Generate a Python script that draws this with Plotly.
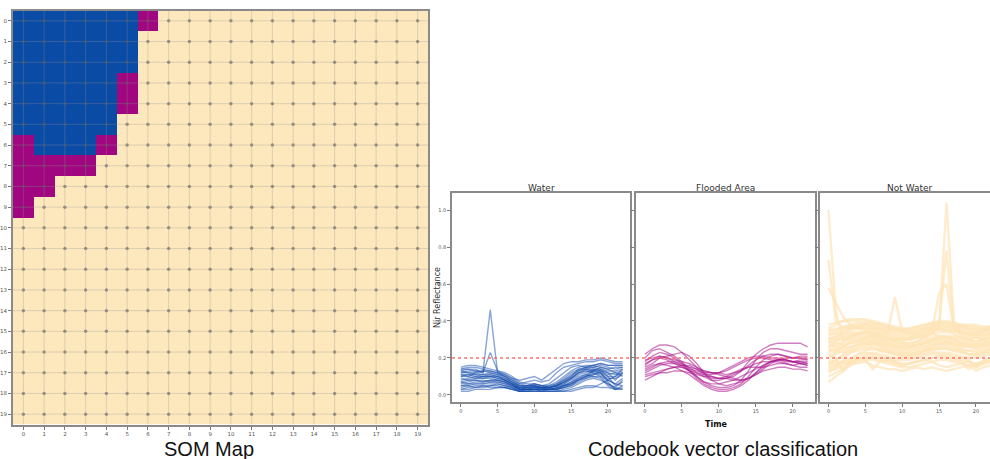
import plotly.graph_objects as go

# ---------------- data ----------------
SOM_ROWS = [
    "WWWWWWFNNNNNNNNNNNNN",
    "WWWWWWNNNNNNNNNNNNNN",
    "WWWWWWNNNNNNNNNNNNNN",
    "WWWWWFNNNNNNNNNNNNNN",
    "WWWWWFNNNNNNNNNNNNNN",
    "WWWWWNNNNNNNNNNNNNNN",
    "FWWWFNNNNNNNNNNNNNNN",
    "FFFFNNNNNNNNNNNNNNNN",
    "FFNNNNNNNNNNNNNNNNNN",
    "FNNNNNNNNNNNNNNNNNNN",
] + ["N" * 20] * 10
CLASS_CODE = {"W": 0, "F": 1, "N": 2}
grid_ticks = list(range(20))

time = list(range(23))
threshold = 0.2

water_lines = [
    [0.12,0.13,0.13,0.12,0.46,0.12,0.11,0.09,0.06,0.05,0.05,0.04,0.04,0.05,0.07,0.09,0.12,0.14,0.15,0.16,0.15,0.14,0.15],
    [0.13,0.14,0.14,0.12,0.23,0.13,0.12,0.10,0.07,0.06,0.06,0.05,0.05,0.06,0.08,0.10,0.13,0.15,0.16,0.17,0.16,0.16,0.16],
    [0.15,0.16,0.16,0.15,0.14,0.13,0.11,0.09,0.08,0.09,0.10,0.08,0.11,0.14,0.17,0.18,0.18,0.19,0.19,0.20,0.19,0.18,0.18],
    [0.14,0.15,0.15,0.14,0.13,0.12,0.10,0.08,0.06,0.07,0.08,0.07,0.08,0.12,0.15,0.16,0.17,0.18,0.18,0.19,0.18,0.17,0.17],
    [0.12,0.12,0.11,0.11,0.12,0.11,0.09,0.07,0.04,0.04,0.05,0.04,0.05,0.07,0.10,0.13,0.15,0.16,0.16,0.15,0.14,0.15,0.15],
    [0.10,0.11,0.11,0.10,0.10,0.09,0.08,0.06,0.03,0.03,0.04,0.03,0.04,0.05,0.08,0.11,0.13,0.14,0.13,0.12,0.08,0.10,0.12],
    [0.08,0.09,0.10,0.09,0.09,0.08,0.07,0.05,0.03,0.03,0.03,0.03,0.03,0.04,0.06,0.09,0.12,0.13,0.12,0.10,0.06,0.04,0.08],
    [0.06,0.07,0.08,0.08,0.07,0.07,0.06,0.04,0.02,0.03,0.03,0.03,0.03,0.03,0.05,0.07,0.10,0.11,0.10,0.09,0.05,0.03,0.05],
    [0.04,0.05,0.06,0.06,0.06,0.06,0.05,0.04,0.02,0.02,0.03,0.02,0.03,0.03,0.04,0.05,0.08,0.10,0.11,0.12,0.07,0.03,0.04],
    [0.03,0.03,0.04,0.04,0.05,0.05,0.04,0.03,0.02,0.02,0.02,0.02,0.02,0.02,0.03,0.04,0.06,0.08,0.09,0.08,0.06,0.04,0.03],
    [0.02,0.02,0.03,0.03,0.03,0.04,0.04,0.03,0.02,0.02,0.02,0.02,0.02,0.02,0.02,0.03,0.04,0.05,0.05,0.04,0.04,0.03,0.03],
    [0.11,0.10,0.09,0.09,0.10,0.10,0.08,0.06,0.04,0.05,0.06,0.05,0.04,0.05,0.06,0.08,0.11,0.12,0.14,0.13,0.11,0.12,0.13],
    [0.09,0.08,0.08,0.07,0.08,0.08,0.07,0.05,0.03,0.04,0.04,0.04,0.03,0.04,0.05,0.07,0.09,0.10,0.12,0.11,0.09,0.09,0.11],
    [0.07,0.06,0.06,0.06,0.07,0.07,0.06,0.05,0.03,0.03,0.04,0.03,0.03,0.03,0.04,0.06,0.08,0.09,0.10,0.10,0.08,0.06,0.09],
    [0.05,0.05,0.04,0.05,0.05,0.06,0.05,0.04,0.03,0.03,0.03,0.03,0.03,0.03,0.04,0.05,0.07,0.09,0.11,0.13,0.10,0.05,0.07],
    [0.13,0.12,0.12,0.11,0.11,0.10,0.09,0.07,0.05,0.04,0.04,0.04,0.04,0.06,0.09,0.12,0.14,0.15,0.15,0.14,0.13,0.13,0.14],
    [0.03,0.04,0.05,0.05,0.04,0.04,0.04,0.03,0.02,0.02,0.02,0.02,0.02,0.02,0.02,0.02,0.03,0.04,0.04,0.06,0.08,0.06,0.05],
    [0.07,0.08,0.09,0.10,0.11,0.10,0.08,0.06,0.04,0.03,0.03,0.03,0.03,0.04,0.05,0.06,0.08,0.10,0.13,0.15,0.14,0.12,0.10],
    [0.10,0.10,0.12,0.13,0.13,0.12,0.10,0.07,0.05,0.05,0.05,0.04,0.04,0.05,0.07,0.10,0.14,0.14,0.14,0.13,0.12,0.11,0.12],
    [0.14,0.14,0.13,0.13,0.12,0.11,0.10,0.08,0.05,0.05,0.06,0.05,0.06,0.09,0.12,0.15,0.16,0.15,0.16,0.17,0.16,0.16,0.16],
    [0.05,0.06,0.07,0.07,0.08,0.08,0.07,0.05,0.03,0.03,0.03,0.03,0.03,0.03,0.05,0.06,0.09,0.11,0.13,0.14,0.12,0.08,0.12],
    [0.11,0.11,0.10,0.10,0.10,0.09,0.08,0.06,0.04,0.04,0.05,0.04,0.04,0.05,0.07,0.09,0.12,0.13,0.13,0.12,0.10,0.10,0.14],
]

flooded_lines = [
    [0.22,0.25,0.27,0.27,0.26,0.23,0.19,0.15,0.12,0.10,0.09,0.09,0.10,0.13,0.18,0.22,0.25,0.27,0.28,0.28,0.28,0.28,0.26],
    [0.20,0.24,0.25,0.23,0.21,0.18,0.14,0.10,0.07,0.05,0.04,0.04,0.05,0.08,0.13,0.19,0.23,0.25,0.25,0.24,0.23,0.22,0.22],
    [0.18,0.21,0.23,0.22,0.20,0.17,0.13,0.09,0.06,0.04,0.03,0.03,0.04,0.06,0.10,0.15,0.19,0.21,0.22,0.21,0.20,0.20,0.19],
    [0.15,0.17,0.20,0.21,0.22,0.23,0.21,0.17,0.12,0.08,0.06,0.05,0.06,0.07,0.09,0.12,0.15,0.18,0.19,0.19,0.18,0.17,0.17],
    [0.12,0.14,0.16,0.17,0.17,0.16,0.15,0.14,0.13,0.12,0.12,0.13,0.15,0.17,0.19,0.20,0.20,0.19,0.19,0.18,0.18,0.19,0.19],
    [0.08,0.10,0.12,0.14,0.15,0.15,0.14,0.13,0.12,0.12,0.12,0.11,0.12,0.13,0.15,0.17,0.18,0.18,0.18,0.17,0.16,0.17,0.16],
    [0.11,0.12,0.13,0.14,0.15,0.16,0.16,0.14,0.11,0.09,0.09,0.10,0.12,0.14,0.15,0.15,0.15,0.16,0.17,0.17,0.16,0.15,0.15],
    [0.16,0.19,0.21,0.20,0.18,0.16,0.13,0.10,0.07,0.06,0.06,0.07,0.08,0.10,0.12,0.14,0.16,0.18,0.19,0.19,0.18,0.18,0.17],
    [0.14,0.16,0.17,0.16,0.15,0.13,0.11,0.08,0.05,0.03,0.02,0.02,0.03,0.05,0.08,0.12,0.16,0.18,0.19,0.19,0.18,0.17,0.16],
    [0.19,0.20,0.21,0.20,0.19,0.18,0.17,0.15,0.13,0.12,0.11,0.10,0.09,0.08,0.09,0.11,0.14,0.17,0.19,0.20,0.20,0.21,0.21],
    [0.13,0.15,0.17,0.18,0.18,0.17,0.15,0.12,0.10,0.08,0.08,0.09,0.11,0.13,0.16,0.19,0.21,0.22,0.22,0.21,0.20,0.20,0.20],
    [0.17,0.19,0.20,0.19,0.17,0.15,0.13,0.12,0.11,0.11,0.12,0.14,0.16,0.18,0.20,0.21,0.21,0.20,0.20,0.19,0.18,0.18,0.18],
    [0.10,0.11,0.12,0.12,0.13,0.13,0.12,0.11,0.10,0.10,0.09,0.09,0.08,0.08,0.09,0.11,0.13,0.14,0.15,0.15,0.14,0.14,0.13],
]

notwater_lines = [
    [1.00,0.45,0.30,0.32,0.33,0.34,0.33,0.32,0.31,0.30,0.31,0.30,0.31,0.32,0.33,0.32,0.31,0.32,0.31,0.30,0.31,0.30,0.31],
    [0.73,0.40,0.36,0.37,0.36,0.37,0.36,0.35,0.35,0.34,0.33,0.33,0.34,0.35,0.36,0.36,0.35,0.35,0.36,0.35,0.34,0.35,0.34],
    [0.58,0.50,0.42,0.38,0.37,0.38,0.37,0.36,0.36,0.35,0.35,0.34,0.35,0.36,0.37,0.38,0.37,0.37,0.37,0.36,0.36,0.35,0.36],
    [0.30,0.32,0.33,0.34,0.34,0.35,0.34,0.33,0.32,0.31,0.30,0.31,0.32,0.33,0.34,0.36,1.04,0.40,0.34,0.33,0.33,0.32,0.33],
    [0.26,0.29,0.31,0.32,0.33,0.33,0.32,0.31,0.30,0.30,0.29,0.30,0.31,0.31,0.33,0.38,0.78,0.36,0.32,0.31,0.31,0.30,0.31],
    [0.28,0.30,0.32,0.33,0.33,0.34,0.33,0.32,0.31,0.30,0.30,0.30,0.31,0.32,0.34,0.55,0.60,0.35,0.33,0.32,0.32,0.31,0.32],
    [0.32,0.34,0.35,0.36,0.36,0.36,0.35,0.34,0.33,0.53,0.34,0.33,0.33,0.34,0.35,0.35,0.35,0.34,0.34,0.33,0.33,0.33,0.33],
    [0.07,0.10,0.13,0.16,0.18,0.19,0.19,0.18,0.17,0.16,0.15,0.15,0.16,0.17,0.18,0.19,0.19,0.18,0.17,0.16,0.16,0.17,0.18],
    [0.10,0.12,0.14,0.17,0.19,0.21,0.21,0.20,0.19,0.18,0.17,0.17,0.18,0.19,0.20,0.21,0.21,0.20,0.19,0.18,0.17,0.18,0.19],
    [0.14,0.16,0.18,0.20,0.22,0.23,0.22,0.21,0.20,0.19,0.19,0.19,0.20,0.21,0.22,0.22,0.22,0.21,0.20,0.19,0.15,0.19,0.20],
    [0.18,0.16,0.14,0.17,0.20,0.22,0.23,0.22,0.21,0.20,0.20,0.20,0.21,0.22,0.23,0.23,0.23,0.22,0.21,0.20,0.20,0.21,0.22],
    [0.22,0.20,0.13,0.19,0.22,0.24,0.25,0.24,0.23,0.22,0.21,0.21,0.22,0.23,0.24,0.25,0.25,0.24,0.23,0.22,0.21,0.22,0.23],
    [0.25,0.24,0.23,0.24,0.25,0.26,0.26,0.25,0.24,0.23,0.23,0.22,0.23,0.24,0.25,0.26,0.26,0.25,0.24,0.24,0.23,0.24,0.25],
    [0.27,0.26,0.25,0.26,0.27,0.28,0.28,0.27,0.26,0.25,0.24,0.24,0.25,0.26,0.27,0.28,0.28,0.27,0.26,0.26,0.25,0.26,0.27],
    [0.29,0.28,0.27,0.28,0.29,0.30,0.30,0.29,0.28,0.27,0.26,0.26,0.27,0.28,0.29,0.30,0.30,0.29,0.28,0.28,0.27,0.28,0.29],
    [0.31,0.30,0.30,0.31,0.32,0.32,0.32,0.31,0.30,0.29,0.28,0.28,0.29,0.30,0.31,0.32,0.32,0.31,0.30,0.30,0.29,0.30,0.30],
    [0.34,0.35,0.37,0.38,0.39,0.39,0.39,0.38,0.37,0.36,0.35,0.35,0.36,0.37,0.38,0.39,0.39,0.38,0.37,0.37,0.36,0.36,0.37],
    [0.36,0.38,0.40,0.41,0.41,0.41,0.40,0.39,0.38,0.37,0.36,0.36,0.37,0.38,0.39,0.40,0.40,0.39,0.38,0.38,0.38,0.37,0.37],
    [0.20,0.22,0.24,0.26,0.28,0.29,0.29,0.28,0.27,0.26,0.25,0.25,0.26,0.27,0.28,0.29,0.29,0.28,0.27,0.26,0.26,0.27,0.27],
    [0.16,0.19,0.22,0.25,0.27,0.28,0.28,0.27,0.25,0.24,0.23,0.23,0.24,0.25,0.27,0.28,0.28,0.27,0.25,0.24,0.24,0.25,0.26],
    [0.12,0.15,0.19,0.23,0.26,0.27,0.27,0.26,0.24,0.22,0.21,0.21,0.22,0.24,0.26,0.27,0.27,0.26,0.24,0.22,0.22,0.23,0.25],
    [0.24,0.25,0.28,0.31,0.33,0.34,0.34,0.33,0.31,0.29,0.28,0.28,0.29,0.31,0.33,0.34,0.34,0.33,0.31,0.30,0.29,0.30,0.31],
    [0.33,0.33,0.34,0.36,0.37,0.38,0.37,0.36,0.34,0.33,0.32,0.32,0.33,0.35,0.36,0.37,0.37,0.36,0.35,0.34,0.34,0.34,0.35],
    [0.15,0.17,0.18,0.19,0.20,0.19,0.14,0.18,0.19,0.18,0.16,0.17,0.18,0.19,0.18,0.16,0.15,0.16,0.17,0.18,0.15,0.17,0.18],
    [0.19,0.18,0.17,0.18,0.19,0.20,0.20,0.19,0.18,0.17,0.16,0.17,0.18,0.19,0.20,0.21,0.20,0.19,0.18,0.14,0.17,0.18,0.19],
    [0.26,0.27,0.29,0.30,0.31,0.31,0.31,0.30,0.29,0.28,0.27,0.27,0.28,0.29,0.30,0.31,0.31,0.30,0.29,0.29,0.28,0.29,0.29],
    [0.35,0.36,0.36,0.37,0.38,0.38,0.38,0.37,0.36,0.35,0.34,0.34,0.35,0.36,0.37,0.38,0.38,0.37,0.37,0.36,0.35,0.35,0.36],
    [0.21,0.23,0.26,0.29,0.30,0.31,0.31,0.30,0.28,0.27,0.26,0.26,0.27,0.28,0.30,0.31,0.31,0.30,0.28,0.27,0.27,0.28,0.28],
    [0.17,0.19,0.21,0.23,0.24,0.25,0.25,0.24,0.23,0.22,0.22,0.22,0.23,0.24,0.25,0.25,0.25,0.24,0.23,0.22,0.22,0.23,0.24],
    [0.30,0.31,0.33,0.35,0.36,0.36,0.36,0.35,0.33,0.32,0.31,0.31,0.32,0.33,0.35,0.36,0.36,0.35,0.34,0.33,0.32,0.33,0.33],
    [0.38,0.39,0.40,0.40,0.40,0.40,0.39,0.38,0.37,0.36,0.35,0.36,0.37,0.38,0.39,0.39,0.39,0.38,0.38,0.37,0.37,0.36,0.36],
    [0.13,0.14,0.16,0.18,0.17,0.18,0.16,0.15,0.14,0.14,0.13,0.14,0.15,0.14,0.15,0.14,0.13,0.14,0.15,0.16,0.13,0.15,0.16],
    [0.23,0.24,0.26,0.28,0.29,0.30,0.29,0.28,0.27,0.26,0.25,0.26,0.27,0.28,0.29,0.30,0.29,0.28,0.27,0.27,0.26,0.27,0.28],
]

panel_titles = ["Water", "Flooded Area", "Not Water"]
y_ticks = [0.0, 0.2, 0.4, 0.6, 0.8, 1.0]
x_ticks = [0, 5, 10, 15, 20]

# ---------------- styles ----------------
BLUE = "#0a4ba6"
PURPLE = "#a0067f"
BEIGE = "#fde7bc"
SMALL = "DejaVu Sans"
BIG = "Liberation Sans"
AX = "#8a8a8a"

fig = go.Figure()

# --- SOM map heatmap ---
z = [[CLASS_CODE[c] for c in row] for row in SOM_ROWS]
fig.add_trace(go.Heatmap(
    z=z, x=grid_ticks, y=grid_ticks, zmin=0, zmax=2, showscale=False,
    colorscale=[[0, BLUE], [0.25, BLUE], [0.25, PURPLE], [0.75, PURPLE], [0.75, BEIGE], [1, BEIGE]],
    xaxis="x", yaxis="y", hoverinfo="skip"))

gx, gy = [], []
lo, hi = grid_ticks[0] - 0.5, grid_ticks[-1] + 0.5
for t in grid_ticks:
    gx += [t, t, None]; gy += [lo, hi, None]
    gx += [lo, hi, None]; gy += [t, t, None]
fig.add_trace(go.Scatter(x=gx, y=gy, mode="lines", xaxis="x", yaxis="y",
                         line=dict(color="rgba(150,150,150,0.3)", width=1),
                         hoverinfo="skip", showlegend=False))
nx = [i for j in grid_ticks for i in grid_ticks]
ny = [j for j in grid_ticks for i in grid_ticks]
fig.add_trace(go.Scatter(x=nx, y=ny, mode="markers", xaxis="x", yaxis="y",
                         marker=dict(color="rgba(90,90,90,0.55)", size=3.5),
                         hoverinfo="skip", showlegend=False))

# --- codebook panels ---
panels = [(water_lines, "rgba(20,75,172,0.5)", 1.4, "x2", "y2"),
          (flooded_lines, "rgba(170,20,140,0.55)", 1.4, "x3", "y3"),
          (notwater_lines, "rgba(253,228,182,0.7)", 2.4, "x4", "y4")]
for lines, col, wd, xa, ya in panels:
    for ln in lines:
        fig.add_trace(go.Scatter(x=time, y=ln, mode="lines", xaxis=xa, yaxis=ya,
                                 line=dict(color=col, width=wd),
                                 hoverinfo="skip", showlegend=False))
    fig.add_shape(type="line", xref=xa + " domain", yref=ya, x0=0, x1=1,
                  y0=threshold, y1=threshold, layer="above",
                  line=dict(color="rgba(255,90,90,0.65)", width=2, dash="dot"))

tickfont_small = dict(family=SMALL, size=5, color="#555")
heat_axis = dict(range=[lo, hi], tickvals=grid_ticks, ticks="outside", ticklen=3,
                 tickcolor="#777", tickfont=dict(family=SMALL, size=5.5, color="#555"),
                 showgrid=False, zeroline=False, showline=True, linecolor=AX,
                 linewidth=2, mirror=True)
line_x = dict(tickvals=x_ticks, ticks="outside", ticklen=3, tickcolor="#777",
              tickfont=tickfont_small, showgrid=False, zeroline=False,
              showline=True, linecolor=AX, linewidth=1.5, mirror=True)
line_y = dict(range=[-0.038, 1.092], tickvals=y_ticks, tickformat=".1f",
              ticks="outside", ticklen=3, tickcolor="#777", tickfont=tickfont_small,
              showgrid=False, zeroline=False, showline=True, linecolor=AX,
              linewidth=1.5, mirror=True)

W, H = 990, 459
def dx(a, b): return [a / W, b / W]
def dy(top, bot): return [(H - bot) / H, (H - top) / H]

fig.update_layout(
    width=W, height=H, margin=dict(l=0, r=0, t=0, b=0),
    paper_bgcolor="white", plot_bgcolor="white", showlegend=False,
    xaxis=dict(heat_axis, domain=dx(13, 428), anchor="y"),
    yaxis=dict(heat_axis, domain=dy(10.5, 424.5), anchor="x", range=[hi, lo]),
    xaxis2=dict(line_x, domain=dx(452, 630), anchor="y2", range=[-1.2, 23]),
    yaxis2=dict(line_y, domain=dy(193, 402), anchor="x2"),
    xaxis3=dict(line_x, domain=dx(636, 815), anchor="y3", range=[-1.2, 23]),
    yaxis3=dict(line_y, domain=dy(193, 402), anchor="x3", showticklabels=False),
    xaxis4=dict(line_x, domain=dx(820, 990), anchor="y4", range=[-1.15, 21.9]),
    yaxis4=dict(line_y, domain=dy(193, 402), anchor="x4", showticklabels=False, mirror=False),
)

annots = [
    dict(text="SOM Map", x=209 / W, y=(H - 449) / H, font=dict(family=BIG, size=20, color="#111")),
    dict(text="Codebook vector classification", x=723 / W, y=(H - 449) / H,
         font=dict(family=BIG, size=20, color="#111")),
    dict(text="<b>Time</b>", x=716 / W, y=(H - 424) / H, font=dict(family=SMALL, size=8, color="#111")),
    dict(text="Nir Reflectance", x=437 / W, y=(H - 298) / H, textangle=-90,
         font=dict(family=SMALL, size=8, color="#333")),
]
for t, cx in zip(panel_titles, [541, 725.5, 910]):
    annots.append(dict(text=t, x=cx / W, y=(H - 188) / H, font=dict(family=SMALL, size=9, color="#333")))
for a in annots:
    a.update(xref="paper", yref="paper", showarrow=False, xanchor="center", yanchor="middle")
fig.update_layout(annotations=annots)

fig.write_html("out.html")
